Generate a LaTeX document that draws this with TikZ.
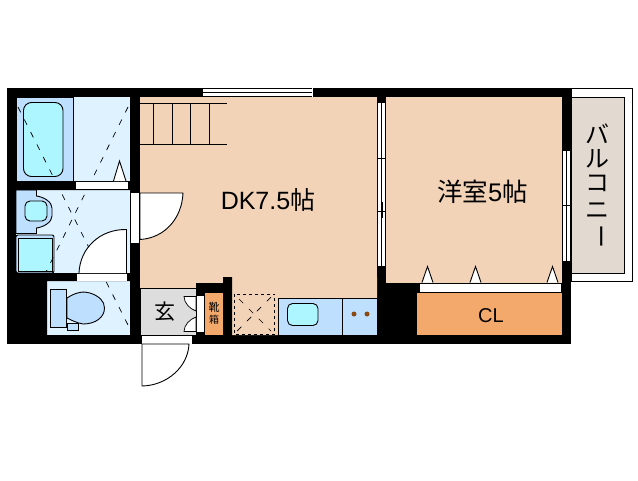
\documentclass[tikz,border=0pt]{standalone}
\usepackage{fontspec}
\usepackage{xcolor}
\setmainfont{Liberation Sans}
\newfontfamily\jpfont{Noto Sans CJK JP}
\definecolor{roomfill}{HTML}{F2D3B8}
\definecolor{wetfill}{HTML}{DFF2FF}
\definecolor{unitfill}{HTML}{BFDFFF}
\definecolor{tubfill}{HTML}{AEF6FF}
\definecolor{closetfill}{HTML}{F4A96C}
\definecolor{hallfill}{HTML}{DDDDDD}
\definecolor{balconyfill}{HTML}{E2D9D0}
\definecolor{stovedot}{HTML}{8B4A14}
\tikzset{
	plan/.style={black, line width=0.9pt},
	sash/.style={black, line width=0.7pt},
	fix/.style={black, line width=0.7pt, dash pattern=on 6pt off 8pt},
	roomlabel/.style={inner sep=0pt, text=black}
}
\begin{document}
\begin{tikzpicture}[x=1pt, y=-1pt]
	\useasboundingbox (0, 0) rectangle (638, 480);
	\fill[white] (0, 0) rectangle (638, 480);

	% balcony
	\draw[plan, fill=white] (571, 88.5) rectangle (632.5, 281);
	\draw[plan, fill=balconyfill] (571, 97) rectangle (624.5, 273);

	% walls
	\fill[black] (7, 88) rectangle (571, 344);

	% rooms
	\fill[roomfill] (140, 97) rectangle (377, 288);
	\fill[roomfill] (232, 277) rectangle (377, 298.5) (232, 298) rectangle (278, 335);
	\fill[black] (196, 283) rectangle (232, 300) (223, 277) rectangle (232, 335);
	\fill[roomfill] (386, 97) rectangle (562, 282.5);
	\fill[closetfill] (417, 293) rectangle (562, 335);
	\fill[closetfill] (205, 293) rectangle (223, 335);
	\draw[plan, fill=hallfill] (196, 288) -- (140, 288) -- (140, 335) -- (196, 335);
	\fill[hallfill] (140.5, 288.5) rectangle (196, 335);
	\fill[wetfill] (16, 97) rectangle (130, 181);
	\fill[wetfill] (16, 190) rectangle (130, 273);
	\fill[wetfill] (47, 281) rectangle (130, 335);

	% bath
	\draw[plan, fill=unitfill] (16, 97) rectangle (73, 181);
	\draw[plan, fill=tubfill, rounded corners=8pt] (23.5, 102.5) rectangle (63, 176.5);

	% basin
	\draw[plan, fill=unitfill] (16, 190) -- (36.5, 190) -- (36.5, 196) .. controls (44, 197) and (52, 202) .. (52, 208) -- (52, 216) .. controls (52, 222) and (44, 227) .. (36.5, 228) -- (36.5, 233.5) -- (16, 233.5) -- cycle;
	\draw[plan, fill=tubfill, rounded corners=5pt] (25, 201) rectangle (47, 221);

	% washer
	\draw[plan, fill=unitfill, rounded corners=2pt] (16, 235) rectangle (54, 273);
	\draw[plan, fill=tubfill] (18.5, 238) rectangle (52, 271);

	% toilet
	\draw[plan, fill=unitfill] (67, 298) .. controls (76, 292) and (84, 291) .. (90, 293) .. controls (99, 296) and (104.5, 301) .. (104.5, 308) .. controls (104.5, 317) and (96, 324) .. (83, 324) .. controls (77, 323) and (71, 320) .. (67, 318) -- cycle;
	\draw[plan, fill=unitfill] (50.5, 289.5) rectangle (66.5, 327.5);
	\draw[plan, fill=unitfill] (67.5, 323.5) rectangle (78, 330);

	% kitchen
	\draw[plan, fill=unitfill] (278, 298.5) rectangle (342.5, 335);
	\draw[plan, fill=unitfill] (342.5, 298.5) rectangle (377, 335);
	\draw[plan, fill=tubfill, rounded corners=5pt] (287.5, 303.5) rectangle (318, 325.5);
	\fill[stovedot] (354, 314) circle (2.5) (367, 314) circle (2.5);

	% storage under the stairs
	\draw[black, line width=0.9pt, dash pattern=on 3pt off 3pt] (234.5, 294) rectangle (274.5, 334.5);
	\draw[fix] (239, 299) -- (271, 331);
	\draw[fix] (271, 297) -- (237, 331);

	% stairs
	\draw[plan] (140, 103.5) -- (227, 103.5);
	\draw[plan] (140, 144.5) -- (227, 144.5);
	\foreach \stairx in {153.5, 172.5, 190.5, 209.5}
		\draw[plan] (\stairx, 103.5) -- (\stairx, 144.5);

	% diagonals of the wet rooms
	\draw[fix] (18, 107) -- (128, 325);
	\draw[fix] (128, 107) -- (46, 272);
	\fill[black] (16, 181) rectangle (130, 190) (16, 273) rectangle (130, 281) (16, 281) rectangle (47, 335);

	% triangles
	\draw[plan, fill=white] (113.5, 181) -- (119.5, 161) -- (126, 181);
	\foreach \trix in {427.5, 475.5, 552.5}
		\draw[plan, fill=white] (\trix-5.5, 282.5) -- (\trix, 266.5) -- (\trix+5.5, 282.5);

	% doors
	\fill[white] (76, 181.5) rectangle (128, 189);
	\fill[white] (77, 273.5) rectangle (127, 281);
	\draw[plan, fill=white] (126.5, 273) -- (126.5, 229.5) .. controls (100, 229) and (80, 248) .. (79, 273);
	\fill[white] (131, 193) rectangle (139, 243);
	\draw[plan, fill=white] (140, 193) -- (183, 193) .. controls (182, 218) and (165, 238) .. (140, 239.5) -- cycle;
	\fill[white] (142, 335.5) rectangle (192, 343.5);
	\draw[plan, fill=white] (142, 344) -- (142, 386) .. controls (167, 385.5) and (188, 367) .. (189, 344) -- cycle;
	\fill[white] (196.5, 296) rectangle (204, 332);
	\draw[sash, fill=white] (196, 296.5) -- (184, 296.5) .. controls (184, 303) and (190, 309) .. (196, 311) -- cycle;
	\draw[sash, fill=white] (196, 331.5) -- (184, 331.5) .. controls (184, 325) and (190, 319) .. (196, 317) -- cycle;

	% windows
	\fill[white] (203, 88) rectangle (313, 97);
	\draw[plan] (203, 88.5) -- (312, 88.5) (203, 92.5) -- (312, 92.5) (203, 96.5) -- (312, 96.5);
	\fill[white] (378, 103) rectangle (385, 266);
	\draw[sash] (381.5, 103) -- (381.5, 266);
	\draw[sash] (378, 158) -- (385, 158) (378, 211) -- (385, 211);
	\draw[sash] (381, 149) -- (381, 165) (382, 202) -- (382, 218);
	\fill[white] (563, 150.5) rectangle (570, 261);
	\draw[sash] (566.5, 150.5) -- (566.5, 261);
	\draw[sash] (563, 205) -- (570, 205) (566, 198) -- (566, 212);
	\fill[white] (420, 283.5) rectangle (561, 292);
	\draw[plan] (417, 283) -- (562, 283);
	\draw[plan] (417, 292.5) -- (562, 292.5);

	% labels
	\node[roomlabel] (dk) at (268, 200) {\fontsize{25}{25}\selectfont DK7.5\jpfont 帖};
	\node[roomlabel] (room) at (482.5, 192) {\fontsize{25.5}{25}\selectfont\jpfont 洋室{\rmfamily 5}帖};
	\node[roomlabel] (closet) at (491, 315.5) {\fontsize{20}{20}\selectfont CL};
	\node[roomlabel] (entry) at (164.5, 312) {\fontsize{21}{21}\selectfont\jpfont 玄};
	\node[roomlabel, align=center] (shoes) at (214, 313.5) {\fontsize{11}{13}\selectfont\jpfont 靴\\\jpfont 箱};
	\node[roomlabel] (ba) at (597.5, 134) {\fontsize{24}{24}\selectfont\jpfont バ};
	\node[roomlabel] (ru) at (597.5, 159) {\fontsize{24}{24}\selectfont\jpfont ル};
	\node[roomlabel] (ko) at (597.5, 183) {\fontsize{24}{24}\selectfont\jpfont コ};
	\node[roomlabel] (ni) at (597.5, 211) {\fontsize{24}{24}\selectfont\jpfont ニ};
	\node[roomlabel, rotate=-90] (bar) at (597.5, 236) {\fontsize{24}{24}\selectfont\jpfont ー};
\end{tikzpicture}
\end{document}
